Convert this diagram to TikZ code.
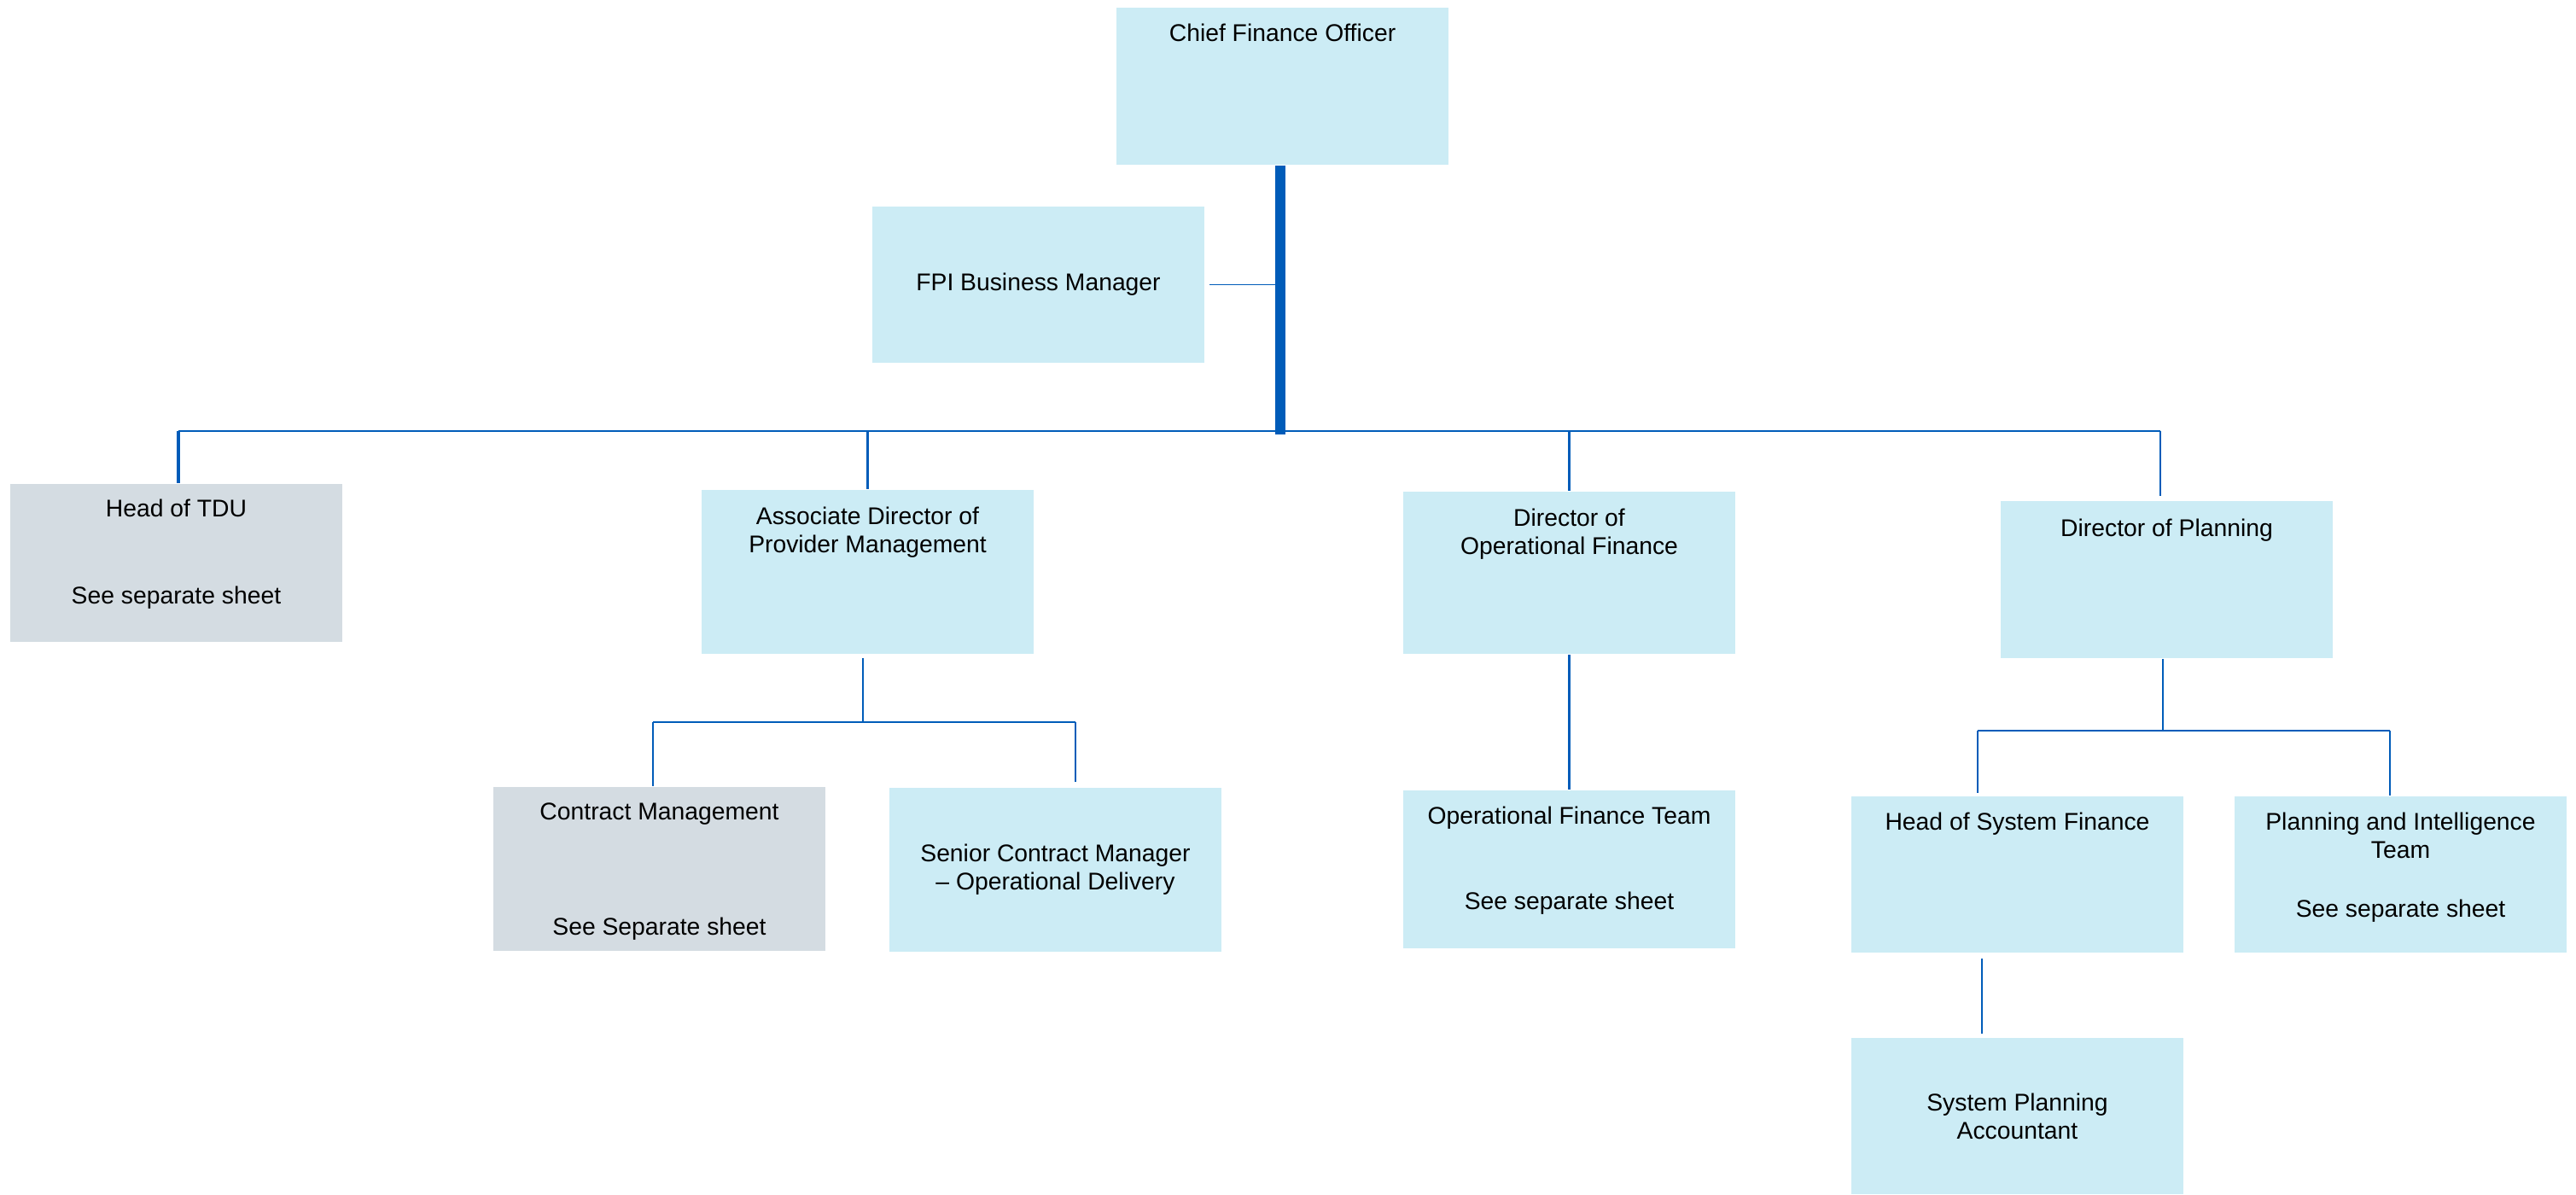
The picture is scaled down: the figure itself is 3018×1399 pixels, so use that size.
\documentclass[tikz,border=0pt]{standalone}
\usepackage{fontspec}
\setmainfont{Liberation Sans}
\definecolor{postblue}{HTML}{CCECF5}
\definecolor{postgrey}{HTML}{D4DCE2}
\definecolor{linkblue}{HTML}{005CB9}
\begin{document}
\begin{tikzpicture}[
   x=0.01cm, y=-0.01cm,
   every node/.style={inner sep=0pt, font=\fontsize{8.05}{9.4}\selectfont},
   post/.style={rectangle, fill=postblue, minimum width=3.89cm, minimum height=1.84cm, align=center},
   greypost/.style={post, fill=postgrey},
   posttext/.style={anchor=north, align=center},
   trunk/.style={draw=linkblue, line width=3.3pt},
   droplink/.style={draw=linkblue, line width=0.95pt},
   crossbar/.style={draw=linkblue, line width=0.6pt},
   twig/.style={draw=linkblue, line width=0.55pt}]

\useasboundingbox (0,0) rectangle (3018,1399);

\node[post, minimum height=1.84cm] (cfo) at (1502.5,101) {};
\node[post, minimum height=1.83cm] (fpi) at (1216.5,333.5) {FPI Business Manager};
\node[greypost, minimum height=1.85cm] (tdu) at (206.5,659.5) {};
\node[post, minimum height=1.92cm] (apm) at (1016.5,670) {};
\node[post, minimum height=1.90cm] (dof) at (1838.5,671) {};
\node[post, minimum height=1.84cm] (dop) at (2538.5,679) {};
\node[greypost, minimum height=1.92cm] (cm) at (772.5,1018) {};
\node[post, minimum height=1.92cm] (scm) at (1236.5,1019) {Senior Contract Manager\\– Operational Delivery};
\node[post, minimum height=1.85cm] (oft) at (1838.5,1018.5) {};
\node[post, minimum height=1.83cm] (hsf) at (2363.5,1024.5) {};
\node[post, minimum height=1.83cm] (pit) at (2812.5,1024.5) {};
\node[post, minimum height=1.83cm] (spa) at (2363.5,1307.5) {System Planning\\Accountant};

\node[posttext] (cfo-t) at (1502.5,27.5) {Chief Finance Officer};
\node[posttext] (tdu-t) at (206.5,584.5) {Head of TDU\\[0.69cm]See separate sheet};
\node[posttext] (apm-t) at (1016.5,593.5) {Associate Director of\\Provider Management};
\node[posttext] (dof-t) at (1838.5,595.5) {Director of\\Operational Finance};
\node[posttext] (dop-t) at (2538.5,607.5) {Director of Planning};
\node[posttext] (cm-t) at (772.5,940.5) {Contract Management\\[1.01cm]See Separate sheet};
\node[posttext] (oft-t) at (1838.5,944.5) {Operational Finance Team\\[0.67cm]See separate sheet};
\node[posttext] (hsf-t) at (2363.5,951.5) {Head of System Finance};
\node[posttext] (pit-t) at (2812.5,951.5) {Planning and Intelligence\\Team\\[0.36cm]See separate sheet};

\coordinate (hub) at (1500,509);
\coordinate (barW) at (209,505);
\coordinate (barE) at (2531,505);
\draw[trunk] (hub |- cfo.south) -- (hub);
\draw[twig] ([xshift=0.05cm]fpi.east) -- (hub |- fpi.east);
\draw[crossbar] (barW) -- (barE);
\draw[droplink] (barW) -- (barW |- tdu.north);
\draw[droplink] (apm.north |- barW) -- (apm.north);
\draw[droplink] (dof.north |- barW) -- (dof.north);
\draw[twig] (barE) -- ([yshift=0.05cm]barE |- dop.north);

\coordinate (apmbar) at (1011,846);
\coordinate (cmW) at (765,846);
\coordinate (scmE) at (1260,846);
\draw[twig] ([yshift=-0.04cm]apmbar |- apm.south) -- (apmbar);
\draw[crossbar] (cmW) -- (scmE);
\draw[twig] (cmW) -- (cmW |- cm.north);
\draw[twig] (scmE) -- ([yshift=0.06cm]scmE |- scm.north);

\draw[droplink] (dof.south) -- (oft.north);

\coordinate (dopbar) at (2534,856);
\coordinate (hsfW) at (2317,856);
\coordinate (pitE) at (2800,856);
\draw[twig] (dopbar |- dop.south) -- (dopbar);
\draw[crossbar] (hsfW) -- (pitE);
\draw[twig] (hsfW) -- ([yshift=0.03cm]hsfW |- hsf.north);
\draw[twig] (pitE) -- (pitE |- pit.north);
\coordinate (spalink) at (2322,1170);
\draw[twig] ([yshift=-0.06cm]spalink |- hsf.south) -- ([yshift=0.04cm]spalink |- spa.north);

\end{tikzpicture}
\end{document}
